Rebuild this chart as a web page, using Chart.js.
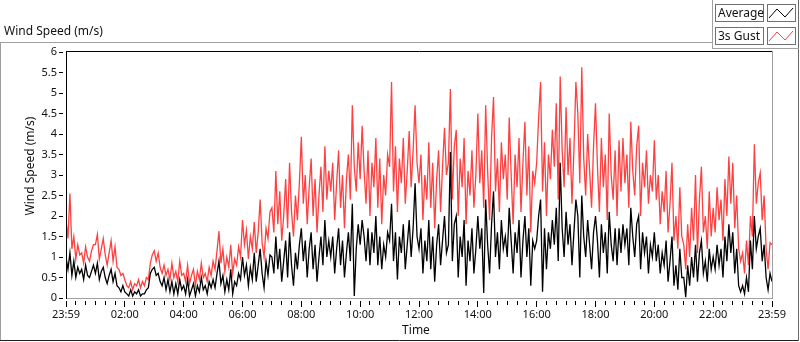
<!DOCTYPE html>
<html>
<head>
<meta charset="utf-8">
<title>Wind Speed</title>
<script src="https://cdn.jsdelivr.net/npm/chart.js@4.4.0/dist/chart.umd.min.js"></script>
<style>
  html, body { margin: 0; padding: 0; background: #fff; }
  canvas { display: block; }
</style>
</head>
<body>
<canvas id="windChart" width="800" height="342"></canvas>
<script>
// one sample every 4 minutes, 23:59 -> 23:59 (15 samples per hour + final)
const sampleMinutes = 4;

const gustSpeed = [
  1.9, 1.45, 2.55, 1.2, 1.5, 0.95, 1.3, 1.05, 1.1, 0.85, 1.25, 1.0, 0.9, 1.15, 1.3,
  1.3, 1.55, 0.95, 1.2, 1.45, 1.05, 0.8, 1.1, 1.4, 0.9, 1.25, 0.75, 0.7, 0.55, 0.6,
  0.45, 0.3, 0.25, 0.4, 0.2, 0.35, 0.3, 0.45, 0.25, 0.4, 0.3, 0.5, 0.45, 0.85, 1.05,
  1.15, 0.9, 1.1, 0.75, 0.6, 0.8, 0.55, 0.7, 0.45, 0.85, 0.5, 0.65, 0.4, 0.9, 0.55,
  0.6, 0.4, 0.8, 0.35, 0.55, 0.7, 0.3, 0.65, 0.45, 0.85, 0.5, 0.6, 0.4, 0.75, 0.55,
  0.9, 0.7, 1.15, 1.63, 0.85, 1.2, 0.65, 1.0, 0.75, 1.3, 0.6, 0.95, 0.8, 1.25, 1.0,
  1.9, 1.3, 1.65, 0.95, 1.5, 1.2, 1.85, 1.1, 1.6, 2.4, 1.35, 1.0, 1.7, 1.45, 2.1,
  2.2, 1.6, 3.1, 1.8, 2.6, 1.4, 2.0, 2.9, 1.7, 3.3, 2.1, 1.5, 2.5, 1.9, 2.8,
  3.93, 2.3, 3.0, 1.8, 2.7, 3.4, 2.0, 2.9, 1.6, 2.5, 3.2, 2.1, 3.7, 2.4, 3.1,
  2.6, 3.3, 1.9, 2.8, 3.6, 2.2, 3.0, 1.7, 2.9, 3.5, 2.4, 4.7, 3.2, 2.6, 3.8,
  2.9, 4.2, 3.1, 2.3, 3.6, 2.0, 3.3, 2.7, 3.9, 2.2, 3.4, 1.8, 3.0, 2.5, 3.5,
  3.2, 5.27, 2.6, 3.7, 2.1, 3.4, 2.8, 3.9, 2.3, 3.1, 4.07, 2.7, 3.6, 4.7, 3.3,
  2.8, 3.5, 1.9, 3.0, 2.4, 3.8, 2.2, 3.3, 1.7, 2.9, 3.6, 2.1, 3.2, 4.15, 3.0,
  3.3, 5.1, 2.4, 3.7, 4.1, 2.0, 3.4, 2.7, 3.9, 1.8, 3.1, 2.5, 3.6, 2.2, 3.0,
  4.5, 2.8, 3.6, 2.2, 4.7, 3.1, 1.9, 3.9, 4.9, 2.6, 3.4, 2.1, 3.8, 2.9, 3.5,
  2.4, 4.4, 3.0, 1.8, 3.5, 2.7, 3.9, 2.1, 3.3, 4.3, 2.5, 3.7, 1.6, 3.1, 2.8,
  3.3, 4.4, 5.27, 2.6, 3.8, 2.0, 3.5, 2.9, 4.1, 3.2, 4.75, 2.4, 5.4, 3.6, 2.7,
  4.65, 3.0, 3.9, 2.3, 3.6, 5.27, 4.5, 2.8, 5.63, 3.4, 2.5, 4.0, 3.1, 2.2, 3.7,
  4.75, 3.2, 2.1, 3.9, 2.7, 3.5, 1.9, 4.5, 3.0, 2.4, 3.6, 2.0, 3.85, 2.6, 3.9,
  2.8, 3.5, 2.2, 4.3, 3.1, 2.5, 3.7, 4.2, 2.0, 3.3, 2.7, 3.6, 2.3, 3.0, 2.6,
  3.85, 2.4, 3.0, 1.8, 2.6, 2.1, 3.1, 1.6, 2.3, 3.3, 1.4, 2.0, 1.2, 2.7, 1.5,
  1.3, 0.7, 1.8, 1.0, 2.2, 1.4, 3.0, 1.1, 2.4, 3.2, 1.6, 2.0, 1.2, 2.6, 1.5,
  2.2, 1.6, 2.7, 1.9, 2.4, 1.4, 2.9, 2.0, 3.45, 2.3, 3.3, 1.7, 2.5, 1.2, 0.9,
  1.1, 0.6, 1.4, 0.8, 2.0, 1.5, 3.75, 2.3, 2.8, 3.05, 1.9, 2.5, 1.2, 0.7, 1.35,
  1.3
];

const averageSpeed = [
  1.0, 0.7, 1.1, 0.55, 0.9, 0.5, 0.75, 0.6, 0.7, 0.45, 0.8, 0.55, 0.5, 0.65, 0.8,
  0.6, 0.85, 0.45, 0.65, 0.75, 0.5, 0.35, 0.55, 0.7, 0.4, 0.6, 0.3, 0.25, 0.15, 0.3,
  0.15, 0.1, 0.05, 0.2, 0.05, 0.15, 0.1, 0.2, 0.05, 0.1, 0.1, 0.2, 0.25, 0.6, 0.7,
  0.75, 0.55, 0.6, 0.4, 0.3, 0.5, 0.2, 0.45, 0.15, 0.4, 0.1, 0.35, 0.1, 0.45, 0.2,
  0.3, 0.1, 0.45, 0.05, 0.2, 0.35, 0.05, 0.3, 0.15, 0.5, 0.2, 0.3, 0.1, 0.4, 0.25,
  0.45, 0.25, 0.6, 0.9, 0.35, 0.55, 0.15, 0.45, 0.2, 0.7, 0.1, 0.4, 0.3, 0.6, 0.45,
  1.0, 0.55, 0.8, 0.3, 0.75, 0.45, 1.1, 0.4, 0.8, 1.2, 0.6, 0.25, 0.9, 0.55, 1.05,
  1.0, 0.6, 1.5, 0.7, 1.2, 0.4, 0.9, 1.4, 0.5, 1.6, 0.8, 0.3, 1.1, 0.7, 1.3,
  1.7, 0.9, 1.4, 0.5, 1.2, 1.6, 0.7, 1.3, 0.4, 1.0, 1.5, 0.8, 1.9, 1.0, 1.4,
  1.0, 1.5, 0.6, 1.2, 1.7, 0.8, 1.4, 0.5, 1.1, 1.6, 0.9, 2.3, 0.05, 1.2, 1.8,
  1.3, 1.9, 1.5, 0.9, 1.7, 0.8, 1.6, 1.1, 2.0, 0.8, 1.5, 0.7, 1.3, 1.0, 1.6,
  1.4, 2.3, 0.9, 1.6, 0.45, 1.5, 1.1, 1.8, 0.7, 1.3, 1.9, 1.0, 1.7, 2.8, 1.5,
  1.2, 1.7, 0.6, 1.4, 0.9, 1.9, 0.7, 1.5, 0.4, 1.3, 1.8, 0.8, 1.4, 2.0, 1.1,
  1.3, 3.56, 0.9, 1.8, 2.0, 0.5, 1.5, 1.0, 1.9, 0.3, 1.4, 0.9, 1.7, 0.6, 1.2,
  2.0, 1.2, 1.7, 0.12, 2.4, 1.3, 0.6, 1.8, 2.6, 1.0, 1.6, 0.7, 1.9, 1.2, 1.5,
  1.0, 2.2, 1.4, 0.6, 1.6, 1.1, 1.9, 0.5, 1.4, 2.0, 1.0, 1.7, 0.3, 1.4, 1.2,
  1.4, 2.0, 2.4, 0.15, 1.7, 0.7, 1.6, 1.2, 1.9, 1.3, 2.2, 0.9, 3.3, 1.7, 1.0,
  2.1, 1.3, 1.8, 0.8, 1.6, 2.4, 2.0, 0.5, 2.5, 1.5, 1.0, 1.9, 1.3, 0.7, 1.6,
  2.0, 1.4, 0.5, 1.8, 1.1, 1.6, 0.6, 2.1, 1.3, 0.9, 1.7, 0.8, 1.7, 1.1, 1.8,
  1.3, 1.7, 0.8, 2.2, 1.5, 1.0, 1.8, 2.0, 0.7, 1.6, 1.1, 1.5, 0.6, 1.3, 1.0,
  1.6, 0.9, 1.3, 0.6, 1.1, 0.8, 1.4, 0.4, 0.9, 1.5, 0.3, 0.8, 0.2, 1.2, 0.5,
  0.5, 0.02, 0.8, 0.3, 1.0, 0.5, 1.3, 0.4, 1.1, 1.4, 0.6, 0.9, 0.4, 1.2, 0.7,
  1.0, 0.7, 1.3, 0.8, 1.2, 0.5, 1.5, 0.9, 1.8, 1.1, 1.6, 0.6, 1.2, 0.3, 0.15,
  0.3, 0.1, 0.5, 0.15, 1.4, 0.7, 2.0, 1.2, 1.5, 1.7, 0.9, 1.3, 0.5, 0.2, 0.6,
  0.4
];

// x axis labels every 2 hours
const timeLabels = ['23:59', '02:00', '04:00', '06:00', '08:00', '10:00', '12:00',
                    '14:00', '16:00', '18:00', '20:00', '22:00', '23:59'];

const seriesNames = ['Average', '3s Gust'];
const seriesColors = ['#000000', '#ff4040'];

const fontFamily = '"Noto Sans", "Open Sans", sans-serif';
const textColor = '#111111';

function toPoints(values) {
    return values.map((v, i) => ({ x: i * sampleMinutes, y: v }));
}

function hline(c, x1, x2, y, color) {
    c.strokeStyle = color;
    c.beginPath();
    c.moveTo(x1, y);
    c.lineTo(x2, y);
    c.stroke();
}

function vline(c, x, y1, y2, color) {
    c.strokeStyle = color;
    c.beginPath();
    c.moveTo(x, y1);
    c.lineTo(x, y2);
    c.stroke();
}

// frames, titles and the LabVIEW-style legend
const panelDecor = {
    id: 'panelDecor',
    afterDraw(chart) {
        const c = chart.ctx;
        const a = chart.chartArea;
        c.save();
        c.lineWidth = 1;

        // outer panel
        hline(c, 0, 712, 42.5, '#a0a0a0');
        vline(c, 0.5, 42, 341, '#a0a0a0');
        hline(c, 0, 799, 340.5, '#202020');
        vline(c, 798.5, 0, 341, '#6a6a6a');

        // plot frame
        hline(c, a.left, a.right + 1, a.top - 0.5, '#000');
        vline(c, a.left + 0.5, a.top - 1, a.bottom + 1, '#000');
        vline(c, a.right + 0.5, a.top - 1, a.bottom + 1, '#a0a0a0');
        hline(c, a.left + 1, a.right + 1, a.bottom + 0.5, '#a0a0a0');

        // titles
        c.fillStyle = textColor;
        c.font = '12px ' + fontFamily;
        c.textBaseline = 'middle';
        c.textAlign = 'left';
        c.fillText('Wind Speed (m/s)', 4, 32);
        c.textAlign = 'center';
        c.fillText('Time', 416, 331);
        c.save();
        c.translate(31, 166);
        c.rotate(-Math.PI / 2);
        c.fillText('Wind Speed (m/s)', 0, 0);
        c.restore();

        // legend
        hline(c, 712, 799, 48.5, '#a0a0a0');
        vline(c, 712.5, 0, 49, '#a0a0a0');
        seriesNames.forEach((name, i) => {
            const y = 4 + i * 23;
            c.fillStyle = '#fff';
            c.fillRect(715, y, 48, 18);
            c.fillRect(767, y, 28, 18);
            c.strokeStyle = '#707070';
            c.strokeRect(715.5, y + 0.5, 48, 17);
            c.strokeRect(767.5, y + 0.5, 28, 17);
            c.fillStyle = textColor;
            c.textAlign = 'left';
            c.fillText(name, 718, y + 9.5);
            c.strokeStyle = seriesColors[i];
            c.beginPath();
            c.moveTo(769, y + 14);
            c.lineTo(777, y + 5);
            c.lineTo(785, y + 13);
            c.lineTo(793, y + 4);
            c.stroke();
        });
        c.restore();
    }
};

const ctx = document.getElementById('windChart').getContext('2d');
const windChart = new Chart(ctx, {
    type: 'line',
    data: {
        datasets: [{
            label: seriesNames[0],
            data: toPoints(averageSpeed),
            borderColor: seriesColors[0],
            borderWidth: 1.3,
            pointRadius: 0,
            tension: 0,
            order: 0
        }, {
            label: seriesNames[1],
            data: toPoints(gustSpeed),
            borderColor: seriesColors[1],
            borderWidth: 1.3,
            pointRadius: 0,
            tension: 0,
            order: 1
        }]
    },
    options: {
        responsive: false,
        animation: false,
        events: [],
        layout: {
            padding: { left: 0, right: 28, top: 52, bottom: 0 }
        },
        plugins: {
            legend: { display: false },
            tooltip: { enabled: false }
        },
        scales: {
            x: {
                type: 'linear',
                min: 0,
                max: 1440,
                border: { display: false },
                grid: {
                    drawOnChartArea: false,
                    drawTicks: true,
                    tickLength: 9,
                    tickColor: '#000',
                    tickWidth: 1,
                    // gap under the axis, longer mark every 2 hours
                    tickBorderDash: (c) => (c.tick && c.tick.value % 120 === 0) ? [6, 3] : [4, 5],
                    tickBorderDashOffset: 6
                },
                ticks: {
                    stepSize: 20,
                    autoSkip: false,
                    maxRotation: 0,
                    padding: 1,
                    color: textColor,
                    font: { family: fontFamily, size: 11 },
                    callback: (value) => value % 120 === 0 ? timeLabels[value / 120] : ''
                },
                afterFit: (scale) => { scale.height = 44; }
            },
            y: {
                min: 0,
                max: 6,
                border: { display: false },
                grid: {
                    drawOnChartArea: false,
                    drawTicks: true,
                    tickLength: 7,
                    tickColor: '#000',
                    tickBorderDash: [4, 3]
                },
                ticks: {
                    stepSize: 0.5,
                    padding: 2,
                    color: textColor,
                    font: { family: fontFamily, size: 11 },
                    callback: (value) => String(value)
                },
                afterFit: (scale) => { scale.width = 66; }
            }
        }
    },
    plugins: [panelDecor]
});
</script>
</body>
</html>
